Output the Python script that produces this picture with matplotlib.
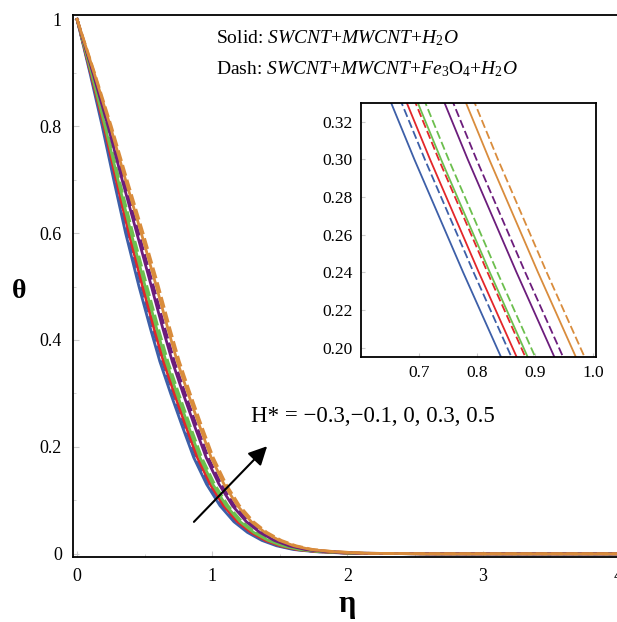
import matplotlib
matplotlib.use("Agg")
import matplotlib.pyplot as plt
from matplotlib.ticker import MultipleLocator, FormatStrFormatter

plt.rcParams['font.family'] = ['Liberation Serif', 'DejaVu Serif']
plt.rcParams['mathtext.fontset'] = 'custom'
plt.rcParams['mathtext.rm'] = 'Liberation Serif'
plt.rcParams['mathtext.it'] = 'Liberation Serif:italic'
plt.rcParams['mathtext.bf'] = 'Liberation Serif:bold'
plt.rcParams['lines.scale_dashes'] = False

# theta levels shared by all curves, eta for each curve
theta_levels = [1.0, 0.9, 0.8, 0.7, 0.6, 0.5, 0.42, 0.36, 0.30, 0.24, 0.18, 0.13,
                0.09, 0.06, 0.04, 0.025, 0.015, 0.008, 0.004, 0.001, 0.0, 0.0]

eta_blue_solid = [0, 0.095, 0.186, 0.271, 0.359, 0.458, 0.544, 0.612, 0.692, 0.776, 0.863, 0.958,
                  1.057, 1.160, 1.260, 1.367, 1.475, 1.600, 1.760, 2.000, 2.6, 4.0]
eta_blue_dash = [0, 0.099, 0.194, 0.283, 0.375, 0.476, 0.562, 0.630, 0.710, 0.794, 0.881, 0.976,
                 1.075, 1.178, 1.278, 1.385, 1.493, 1.618, 1.778, 2.018, 2.6, 4.0]
eta_red_solid = [0, 0.101, 0.199, 0.289, 0.383, 0.485, 0.571, 0.639, 0.719, 0.803, 0.890, 0.985,
                 1.084, 1.187, 1.287, 1.394, 1.502, 1.627, 1.787, 2.027, 2.6, 4.0]
eta_red_dash = [0, 0.105, 0.206, 0.300, 0.397, 0.500, 0.586, 0.654, 0.734, 0.818, 0.905, 1.000,
                1.099, 1.202, 1.302, 1.409, 1.517, 1.642, 1.802, 2.042, 2.6, 4.0]
eta_green_solid = [0, 0.106, 0.207, 0.302, 0.400, 0.504, 0.590, 0.658, 0.738, 0.822, 0.909, 1.004,
                   1.103, 1.206, 1.306, 1.413, 1.521, 1.646, 1.806, 2.046, 2.6, 4.0]
eta_green_dash = [0, 0.109, 0.213, 0.311, 0.412, 0.517, 0.603, 0.671, 0.751, 0.835, 0.922, 1.017,
                  1.116, 1.219, 1.319, 1.426, 1.534, 1.659, 1.819, 2.059, 2.6, 4.0]
eta_purple_solid = [0, 0.117, 0.229, 0.333, 0.442, 0.550, 0.636, 0.704, 0.784, 0.868, 0.955, 1.050,
                    1.149, 1.252, 1.352, 1.459, 1.567, 1.692, 1.852, 2.092, 2.6, 4.0]
eta_purple_dash = [0, 0.120, 0.236, 0.344, 0.455, 0.565, 0.651, 0.719, 0.799, 0.883, 0.970, 1.065,
                   1.164, 1.267, 1.367, 1.474, 1.582, 1.707, 1.867, 2.107, 2.6, 4.0]
eta_orange_solid = [0, 0.126, 0.246, 0.358, 0.475, 0.587, 0.673, 0.741, 0.821, 0.905, 0.992, 1.087,
                    1.186, 1.289, 1.389, 1.496, 1.604, 1.729, 1.889, 2.129, 2.6, 4.0]
eta_orange_dash = [0, 0.129, 0.253, 0.369, 0.488, 0.602, 0.688, 0.756, 0.836, 0.920, 1.007, 1.102,
                   1.201, 1.304, 1.404, 1.511, 1.619, 1.744, 1.904, 2.144, 2.6, 4.0]

curves = [
    (eta_blue_solid, '#3d5fa8', '-'),
    (eta_blue_dash, '#3d5fa8', '--'),
    (eta_red_solid, '#e3262a', '-'),
    (eta_red_dash, '#e3262a', '--'),
    (eta_green_solid, '#6cbf4e', '-'),
    (eta_green_dash, '#6cbf4e', '--'),
    (eta_purple_solid, '#6c1d7c', '-'),
    (eta_purple_dash, '#6c1d7c', '--'),
    (eta_orange_solid, '#d98c3c', '-'),
    (eta_orange_dash, '#d98c3c', '--'),
]

fig = plt.figure(figsize=(6.17, 6.22), dpi=100)
ax = fig.add_axes([0.1183, 0.1045, 0.8898, 0.8714])

for eta, color, style in curves:
    ls = '-' if style == '-' else (0, (8, 3))
    ax.plot(eta, theta_levels, color=color, lw=2.0, linestyle=ls)

ax.set_xlim(-0.03, 4.03)
ax.set_ylim(-0.006, 1.008)
ax.xaxis.set_major_locator(MultipleLocator(1))
ax.xaxis.set_minor_locator(MultipleLocator(0.5))
ax.yaxis.set_major_locator(MultipleLocator(0.2))
ax.yaxis.set_minor_locator(MultipleLocator(0.1))
ax.yaxis.set_major_formatter(plt.FuncFormatter(lambda v, p: '%g' % round(v, 1)))
ax.tick_params(which='both', direction='in', color='#cccccc', labelsize=13, pad=8)
ax.tick_params(which='major', length=4)
ax.tick_params(which='minor', length=2.5)
for s in ax.spines.values():
    s.set_linewidth(1.3)

fig.text(0.030, 0.532, r'$\mathbf{\theta}$', fontsize=20, ha='center', va='center')
fig.text(0.563, 0.025, r'$\mathbf{\eta}$', fontsize=22, ha='center', va='center')

ax.text(1.03, 0.964, r'Solid: $\mathit{SWCNT}$+$\mathit{MWCNT}$+$\mathit{H}_2\mathit{O}$',
        fontsize=14, ha='left', va='center')
ax.text(1.03, 0.906, r'Dash: $\mathit{SWCNT}$+$\mathit{MWCNT}$+$\mathit{Fe}_3\mathrm{O}_4$+$\mathit{H}_2\mathit{O}$',
        fontsize=14, ha='left', va='center')

ax.annotate('', xy=(1.42, 0.205), xytext=(0.85, 0.056),
            arrowprops=dict(arrowstyle='-|>', color='black', lw=1.5, mutation_scale=28))
ax.text(1.29, 0.256, 'H* = \u22120.3,\u22120.1, 0, 0.3, 0.5', fontsize=16.5, ha='left', va='center')

# inset zoom
axi = fig.add_axes([0.5851, 0.4260, 0.3809, 0.4084])
for eta, color, style in curves:
    ls = '-' if style == '-' else (0, (6, 2.5))
    axi.plot(eta, theta_levels, color=color, lw=1.3, linestyle=ls)
axi.set_xlim(0.6, 1.005)
axi.set_ylim(0.195, 0.33)
axi.set_xticks([0.7, 0.8, 0.9, 1.0])
axi.set_yticks([0.20, 0.22, 0.24, 0.26, 0.28, 0.30, 0.32])
axi.xaxis.set_major_formatter(FormatStrFormatter('%.1f'))
axi.yaxis.set_major_formatter(FormatStrFormatter('%.2f'))
axi.tick_params(direction='in', color='#cccccc', labelsize=12.5, length=3, pad=6)
for s in axi.spines.values():
    s.set_linewidth(1.3)

fig.savefig('out.png', dpi=100)
